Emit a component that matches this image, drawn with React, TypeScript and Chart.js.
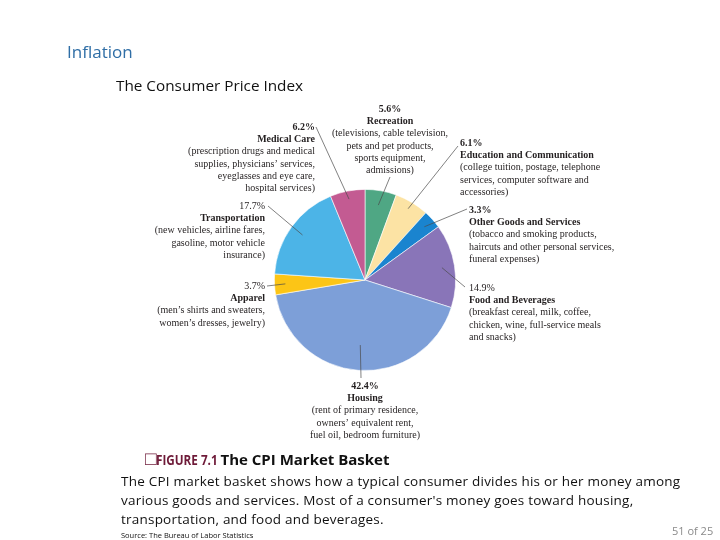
import React, { useEffect, useRef } from "react";
import { Chart, registerables } from "chart.js";

Chart.register(...registerables);

// ---- data ----
const categories = [
  "Recreation",
  "Education and Communication",
  "Other Goods and Services",
  "Food and Beverages",
  "Housing",
  "Apparel",
  "Transportation",
  "Medical Care",
];
const shares = [5.6, 6.1, 3.3, 14.9, 42.4, 3.7, 17.7, 6.2];
const shareLabels = ["5.6%", "6.1%", "3.3%", "14.9%", "42.4%", "3.7%", "17.7%", "6.2%"];
const descriptions = [
  ["(televisions, cable television,", "pets and pet products,", "sports equipment,", "admissions)"],
  ["(college tuition, postage, telephone", "services, computer software and", "accessories)"],
  ["(tobacco and smoking products,", "haircuts and other personal services,", "funeral expenses)"],
  ["(breakfast cereal, milk, coffee,", "chicken, wine, full-service meals", "and snacks)"],
  ["(rent of primary residence,", "owners\u2019 equivalent rent,", "fuel oil, bedroom furniture)"],
  ["(men\u2019s shirts and sweaters,", "women\u2019s dresses, jewelry)"],
  ["(new vehicles, airline fares,", "gasoline, motor vehicle", "insurance)"],
  ["(prescription drugs and medical", "supplies, physicians\u2019 services,", "eyeglasses and eye care,", "hospital services)"],
];

// ---- styles / layout ----
const sliceColors = ["#4fa784", "#fce3a4", "#1a84cf", "#8975b8", "#7d9fd8", "#fcc516", "#4cb4e7", "#c35b92"];
const boldShare = [true, true, true, false, true, false, false, true];
// label layout relative to pie centre: text anchor, alignment, leader-line end
const labelLayout = [
  { dx: 25, dy: -168, align: "center", ex: 25, ey: -103, f: 0.84 },
  { dx: 95, dy: -134, align: "left", ex: 93, ey: -134, f: 0.92 },
  { dx: 104, dy: -67, align: "left", ex: 102, ey: -71, f: 0.88 },
  { dx: 104, dy: 11, align: "left", ex: 100, ey: 7, f: 0.86 },
  { dx: 0, dy: 109, align: "center", ex: -4, ey: 98, f: 0.72 },
  { dx: -100, dy: 9, align: "right", ex: -98, ey: 6, f: 0.88 },
  { dx: -100, dy: -71, align: "right", ex: -97, ey: -74, f: 0.85 },
  { dx: -50, dy: -150, align: "right", ex: -49, ey: -153, f: 0.91 },
];
const LINE_H = 12.2;
const SERIF = "'Liberation Serif', 'DejaVu Serif', serif";

const labelPlugin = {
  id: "pieLabels",
  afterDraw(chart: any) {
    const ctx = chart.ctx;
    const meta = chart.getDatasetMeta(0);
    ctx.save();
    meta.data.forEach((arc: any, i: number) => {
      const p = arc.getProps(["x", "y", "startAngle", "endAngle", "outerRadius"], true);
      const lay = labelLayout[i];
      const mid = (p.startAngle + p.endAngle) / 2;
      const sx = p.x + Math.cos(mid) * p.outerRadius * lay.f;
      const sy = p.y + Math.sin(mid) * p.outerRadius * lay.f;
      ctx.strokeStyle = "#4a4a4a";
      ctx.lineWidth = 0.7;
      ctx.beginPath();
      ctx.moveTo(sx, sy);
      ctx.lineTo(p.x + lay.ex, p.y + lay.ey);
      ctx.stroke();

      ctx.fillStyle = "#231f20";
      ctx.textAlign = lay.align;
      ctx.textBaseline = "alphabetic";
      const tx = p.x + lay.dx;
      let ty = p.y + lay.dy;
      ctx.font = (boldShare[i] ? "bold " : "") + "10px " + SERIF;
      ctx.fillText(shareLabels[i], tx, ty);
      ty += LINE_H;
      ctx.font = "bold 10px " + SERIF;
      ctx.fillText(categories[i], tx, ty);
      ctx.font = "10px " + SERIF;
      descriptions[i].forEach((line) => {
        ty += LINE_H;
        ctx.fillText(line, tx, ty);
      });
    });
    ctx.restore();
  },
};

const SANS = "'Open Sans', 'Noto Sans', sans-serif";

export default function App() {
  const ref = useRef<HTMLCanvasElement | null>(null);

  useEffect(() => {
    if (!ref.current) return;
    const chart = new Chart(ref.current, {
      type: "pie",
      data: {
        labels: categories,
        datasets: [
          {
            data: shares,
            backgroundColor: sliceColors,
            borderColor: "rgba(255,255,255,0.75)",
            borderWidth: 0.8,
          },
        ],
      },
      options: {
        responsive: false,
        animation: false,
        layout: { padding: { left: 274, right: 264, top: 189, bottom: 169 } },
        plugins: {
          legend: { display: false },
          tooltip: { enabled: false },
          title: { display: false },
        },
      },
      plugins: [labelPlugin],
    });
    return () => chart.destroy();
  }, []);

  return (
    <div style={{ position: "fixed", left: 0, top: 0, width: 720, height: 540, background: "#fff", overflow: "hidden" }}>
      <canvas ref={ref} width={720} height={540} style={{ position: "absolute", left: 0, top: 0, width: 720, height: 540 }} />
      <div style={{ position: "absolute", left: 67, top: 40, fontFamily: SANS, fontSize: 17, color: "#2f6ea6" }}>Inflation</div>
      <div style={{ position: "absolute", left: 116, top: 75, fontFamily: SANS, fontSize: 15.3, color: "#111", whiteSpace: "nowrap" }}>The Consumer Price Index</div>
      <div style={{ position: "absolute", left: 145, top: 445, fontFamily: SANS, fontSize: 15, fontWeight: 700, whiteSpace: "nowrap" }}>
        <span style={{ color: "#6e1a38", fontSize: 19, fontWeight: 400 }}>{"\u25A1"}</span>
        <span style={{ color: "#6e1a38", display: "inline-block", transform: "scaleX(0.78)", transformOrigin: "left center", width: 60 }}>FIGURE 7.1</span>
        <span style={{ color: "#111", marginLeft: 4 }}>The CPI Market Basket</span>
      </div>
      <div style={{ position: "absolute", left: 121, top: 472, width: 600, fontFamily: SANS, fontSize: 13.5, lineHeight: "19px", letterSpacing: "0.22px", color: "#111" }}>
        The CPI market basket shows how a typical consumer divides his or her money among<br />
        various goods and services. Most of a consumer's money goes toward housing,<br />
        transportation, and food and beverages.
      </div>
      <div style={{ position: "absolute", left: 121, top: 530, fontFamily: SANS, fontSize: 7.5, color: "#111", whiteSpace: "nowrap" }}>Source: The Bureau of Labor Statistics</div>
      <div style={{ position: "absolute", left: 672, top: 523, fontFamily: SANS, fontSize: 11, color: "#8a8a8a", whiteSpace: "nowrap" }}>51 of 25</div>
    </div>
  );
}
